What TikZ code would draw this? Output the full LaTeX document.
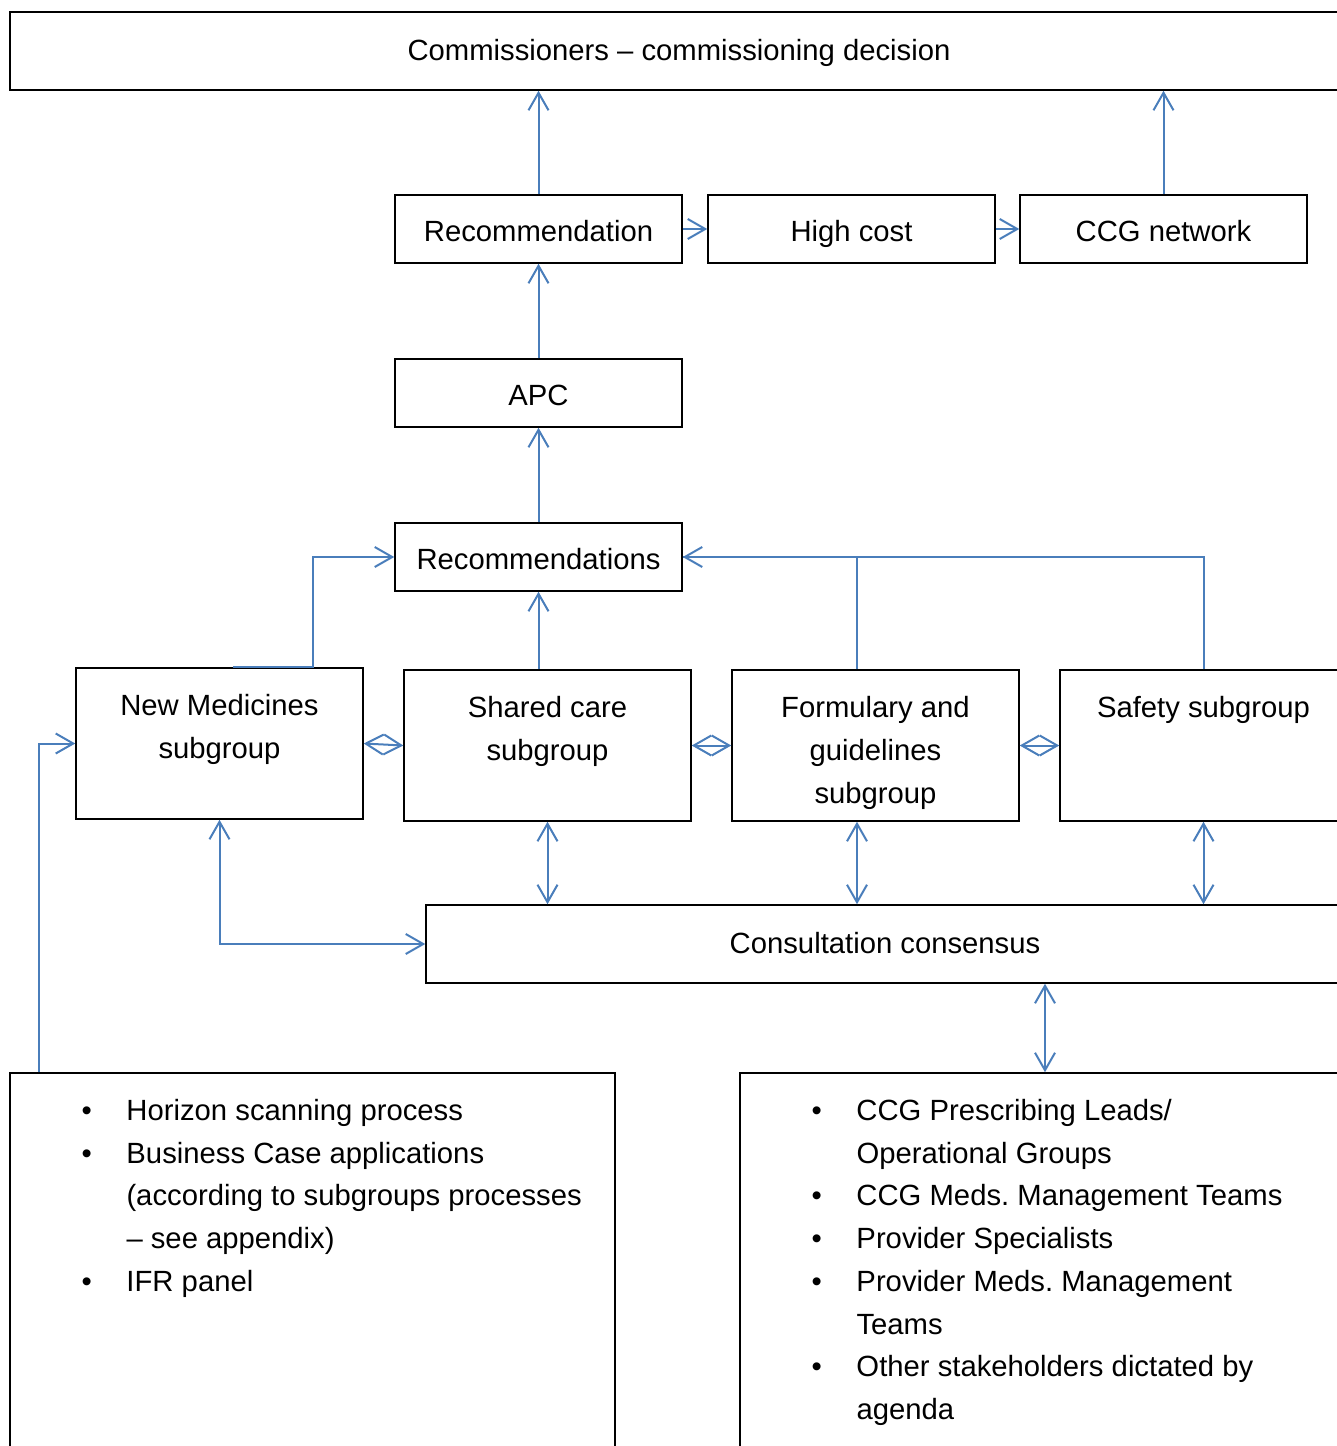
\documentclass[tikz,border=0pt]{standalone}
\usepackage{fontspec}
\setmainfont{Liberation Sans}
\usetikzlibrary{positioning,arrows.meta}
\definecolor{linkblue}{HTML}{4A7EBB}

\begin{document}
\frenchspacing
\begin{tikzpicture}[x=0.4pt,y=-0.4pt,
  font=\fontsize{11.7}{17.1}\selectfont,
  >={Straight Barb[length=7pt,width=8pt]},
  box/.style={draw,line width=0.6pt,inner sep=0pt,minimum width=114.8pt,minimum height=27.2pt,
    text height=9.6pt,text depth=0pt},
  subbox/.style={box,minimum height=60.4pt},
  widebox/.style={box,minimum height=31.2pt,text height=8.8pt,text depth=1.2pt},
  listbox/.style={box,minimum height=154.8pt},
  lbl/.style={inner sep=0pt,align=center},
  flow/.style={draw=linkblue,line width=0.8pt,->},
  both/.style={draw=linkblue,line width=0.8pt,<->},
  link/.style={draw=linkblue,line width=0.8pt}]
\useasboundingbox (0,0) rectangle (1336,1446);

% boxes
\node[widebox,minimum width=535.2pt] (comm) at (679,51) {Commissioners – commissioning decision};
\node[box] (rec) at (538.5,229) {Recommendation};
\node[box] (hc) at (851.5,229) {High cost};
\node[box] (ccg) at (1163.5,229) {CCG network};
\node[box] (apc) at (538.5,393) {APC};
\node[box] (recs) at (538.5,557) {Recommendations};
\node[subbox] (nm) at (219.5,743.5) {};
\node[subbox] (sc) at (547.5,745.5) {};
\node[subbox] (fg) at (875.5,745.5) {};
\node[subbox] (saf) at (1203.5,745.5) {};
\node[lbl,below=10.8pt of nm.north] (nmtext) {New Medicines\\subgroup};
\node[lbl,below=10.8pt of sc.north] (sctext) {Shared care\\subgroup};
\node[lbl,below=10.8pt of fg.north] (fgtext) {Formulary and\\guidelines\\subgroup};
\node[lbl,below=10.8pt of saf.north] (saftext) {Safety subgroup};
\node[widebox,minimum width=367.2pt] (cons) at (885,944) {Consultation consensus};
\node[listbox,minimum width=242pt] (lb) at (312.5,1266.5) {};
\node[listbox,minimum width=244pt] (rb) at (1045,1266.5) {};

% bullet lists
\node[anchor=north west,inner sep=0pt] (lbtext) at (81,1090) {%
\begin{tabular}{@{}p{18pt}@{}l@{}}
\textbullet & Horizon scanning process\\
\textbullet & Business Case applications\\
 & (according to subgroups processes\\
 & – see appendix)\\
\textbullet & IFR panel
\end{tabular}};
\node[anchor=north west,inner sep=0pt] (rbtext) at (811,1090) {%
\begin{tabular}{@{}p{18pt}@{}l@{}}
\textbullet & CCG Prescribing Leads/\\
 & Operational Groups\\
\textbullet & CCG Meds. Management Teams\\
\textbullet & Provider Specialists\\
\textbullet & Provider Meds. Management\\
 & Teams\\
\textbullet & Other stakeholders dictated by\\
 & agenda
\end{tabular}};

% connectors
\draw[flow] (rec.north) -- (rec.north |- comm.south);
\draw[flow] (ccg.north) -- (ccg.north |- comm.south);
\draw[flow] (rec.east) -- (hc.west);
\draw[flow] (hc.east) -- (ccg.west);
\draw[flow] (apc.north) -- (rec.south);
\draw[flow] (recs.north) -- (apc.south);
\draw[flow] ([xshift=5.4pt]nm.north) -- ++(80,0) |- (recs.west);
\draw[flow] (recs.south |- sc.north) -- (recs.south);
\draw[link] ([xshift=-7.4pt]fg.north) |- (recs.east);
\draw[flow] (saf.north) |- (recs.east);
\draw[both] (nm.east) -- (sc.west);
\draw[both] (sc.east) -- (fg.west);
\draw[both] (fg.east) -- (saf.west);
\draw[both] (sc.south) -- (sc.south |- cons.north);
\draw[both] ([xshift=-7.4pt]fg.south) -- ([xshift=-7.4pt]fg.south |- cons.north);
\draw[both] (saf.south) -- (saf.south |- cons.north);
\draw[both] (nm.south) |- (cons.west);
\draw[both] (rb.north |- cons.south) -- (rb.north);
\draw[flow] ([xshift=12pt]lb.north west) |- (nm.west);
\end{tikzpicture}
\end{document}
